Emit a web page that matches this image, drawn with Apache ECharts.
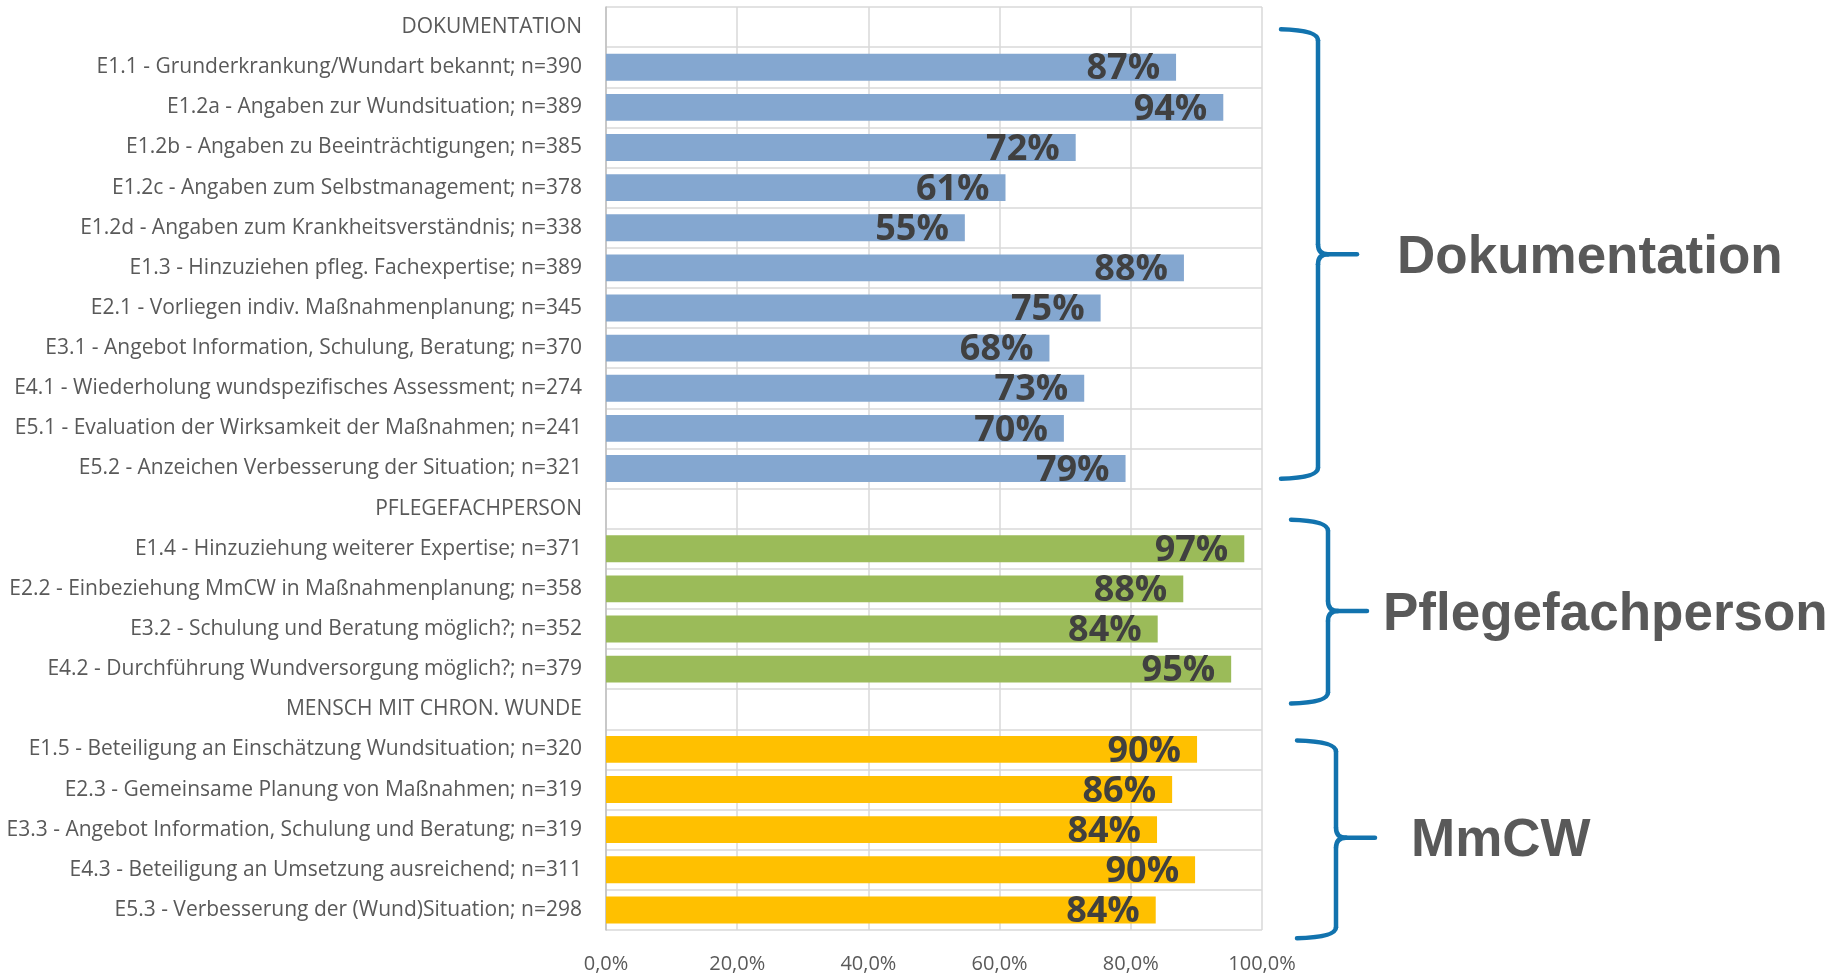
<!DOCTYPE html>
<html>
<head>
<meta charset="utf-8">
<script src="https://cdn.jsdelivr.net/npm/echarts@6/dist/echarts.min.js"></script>
<style>
html,body{margin:0;padding:0;background:#fff;}
#chart{width:1844px;height:974px;}
</style>
</head>
<body>
<div id="chart"></div>
<script>
// ---- data ----
const categories = [
  'DOKUMENTATION',
  'E1.1 - Grunderkrankung/Wundart bekannt; n=390',
  'E1.2a - Angaben zur Wundsituation; n=389',
  'E1.2b - Angaben zu Beeinträchtigungen; n=385',
  'E1.2c - Angaben zum Selbstmanagement; n=378',
  'E1.2d - Angaben zum Krankheitsverständnis; n=338',
  'E1.3 - Hinzuziehen pfleg. Fachexpertise; n=389',
  'E2.1 - Vorliegen indiv. Maßnahmenplanung; n=345',
  'E3.1 - Angebot Information, Schulung, Beratung; n=370',
  'E4.1 - Wiederholung wundspezifisches Assessment; n=274',
  'E5.1 - Evaluation der Wirksamkeit der Maßnahmen; n=241',
  'E5.2 - Anzeichen Verbesserung der Situation; n=321',
  'PFLEGEFACHPERSON',
  'E1.4 - Hinzuziehung weiterer Expertise; n=371',
  'E2.2 - Einbeziehung MmCW in Maßnahmenplanung; n=358',
  'E3.2 - Schulung und Beratung möglich?; n=352',
  'E4.2 - Durchführung Wundversorgung möglich?; n=379',
  'MENSCH MIT CHRON. WUNDE',
  'E1.5 - Beteiligung an Einschätzung Wundsituation; n=320',
  'E2.3 - Gemeinsame Planung von Maßnahmen; n=319',
  'E3.3 - Angebot Information, Schulung und Beratung; n=319',
  'E4.3 - Beteiligung an Umsetzung ausreichend; n=311',
  'E5.3 - Verbesserung der (Wund)Situation; n=298'
];
const dokuValues = [86.9, 94.1, 71.6, 60.9, 54.7, 88.1, 75.4, 67.6, 72.9, 69.8, 79.2];
const pflegeValues = [97.3, 88.0, 84.1, 95.3];
const mmcwValues = [90.1, 86.3, 84.0, 89.8, 83.8];
const xTicks = [0, 20, 40, 60, 80, 100];
const groupNames = ['Dokumentation', 'Pflegefachperson', 'MmCW'];

// ---- build series data (null for rows of other groups) ----
const n = categories.length;
function place(values, start) {
  const arr = new Array(n).fill(null);
  values.forEach((v, i) => { arr[start + i] = v; });
  return arr;
}
const dokuData = place(dokuValues, 1);
const pflegeData = place(pflegeValues, 13);
const mmcwData = place(mmcwValues, 18);

const labelCfg = {
  show: true,
  position: 'insideRight',
  distance: 16,
  offset: [0, 2],
  formatter: p => p.value == null ? '' : Math.round(p.value) + '%',
  fontFamily: 'Open Sans',
  fontWeight: 700,
  fontSize: 36,
  color: '#404040'
};

const chart = echarts.init(document.getElementById('chart'), null, {renderer: 'canvas'});
const option = {
  animation: false,
  backgroundColor: '#ffffff',
  grid: {left: 606, right: 582, top: 7, bottom: 39, containLabel: false},
  xAxis: {
    type: 'value',
    min: xTicks[0], max: xTicks[xTicks.length - 1], interval: xTicks[1] - xTicks[0],
    axisLine: {show: false},
    axisTick: {show: false},
    splitLine: {show: true, lineStyle: {color: '#D9D9D9', width: 1.5}},
    axisLabel: {
      formatter: v => v.toFixed(1).replace('.', ',') + '%',
      fontFamily: 'Open Sans', fontSize: 20, color: '#595959', margin: 24
    }
  },
  yAxis: {
    type: 'category',
    data: categories,
    inverse: true,
    axisTick: {show: false},
    axisLine: {show: true, lineStyle: {color: '#BFBFBF', width: 1.5}},
    splitLine: {show: true, interval: 0, lineStyle: {color: '#D9D9D9', width: 1.5}},
    axisLabel: {
      interval: 0, margin: 24,
      fontFamily: 'Open Sans', fontSize: 21, color: '#595959'
    }
  },
  series: [
    {name: 'Dokumentation', type: 'bar', stack: 'all', data: dokuData, barWidth: '67%',
     itemStyle: {color: '#84A7D0'}, label: labelCfg},
    {name: 'Pflegefachperson', type: 'bar', stack: 'all', data: pflegeData, barWidth: '67%',
     itemStyle: {color: '#9BBB59'}, label: labelCfg},
    {name: 'MmCW', type: 'bar', stack: 'all', data: mmcwData, barWidth: '67%',
     itemStyle: {color: '#FFC000'}, label: labelCfg}
  ]
};
chart.setOption(option);

// ---- braces and group titles (positioned from the category axis) ----
function yAt(f) {
  const a = chart.convertToPixel({yAxisIndex: 0}, 0);
  const b = chart.convertToPixel({yAxisIndex: 0}, 1);
  return a + (b - a) * f;
}
const braces = [
  {top: 0.08, bottom: 11.23, mid: 5.66, arm: 1281, line: 1318, tip: 1357, textX: 1397, text: groupNames[0]},
  {top: 12.30, bottom: 16.83, mid: 14.55, arm: 1291, line: 1328, tip: 1367, textX: 1383, text: groupNames[1]},
  {top: 17.80, bottom: 22.68, mid: 20.2, arm: 1297, line: 1336, tip: 1375, textX: 1411, text: groupNames[2]}
];
const r = 10;
const braceStyle = {fill: null, stroke: '#1273AE', lineWidth: 4.5, lineCap: 'round'};
const elements = [];
function seg(x1, y1, x2, y2) {
  elements.push({type: 'line', shape: {x1, y1, x2, y2}, style: braceStyle});
}
function curve(x1, y1, cx, cy, x2, y2) {
  elements.push({type: 'bezierCurve', shape: {x1, y1, cpx1: cx, cpy1: cy, x2, y2}, style: braceStyle});
}
braces.forEach(b => {
  const y0 = yAt(b.top), y1 = yAt(b.bottom), ym = yAt(b.mid);
  const L = b.line;
  curve(b.arm, y0 - 1, L, y0, L, y0 + r);
  seg(L, y0 + r, L, ym - r);
  curve(L, ym - r, L, ym, L + r, ym);
  seg(L + r, ym, b.tip, ym);
  curve(L + r, ym, L, ym, L, ym + r);
  seg(L, ym + r, L, y1 - r);
  curve(L, y1 - r, L, y1, b.arm, y1 + 1);
  elements.push({
    type: 'text',
    x: b.textX, y: ym + 4,
    style: {
      text: b.text, fill: '#595959',
      font: 'bold 53px "Liberation Sans", Arial, sans-serif',
      verticalAlign: 'middle', align: 'left'
    }
  });
});
chart.setOption({graphic: {elements: elements}});
</script>
</body>
</html>
